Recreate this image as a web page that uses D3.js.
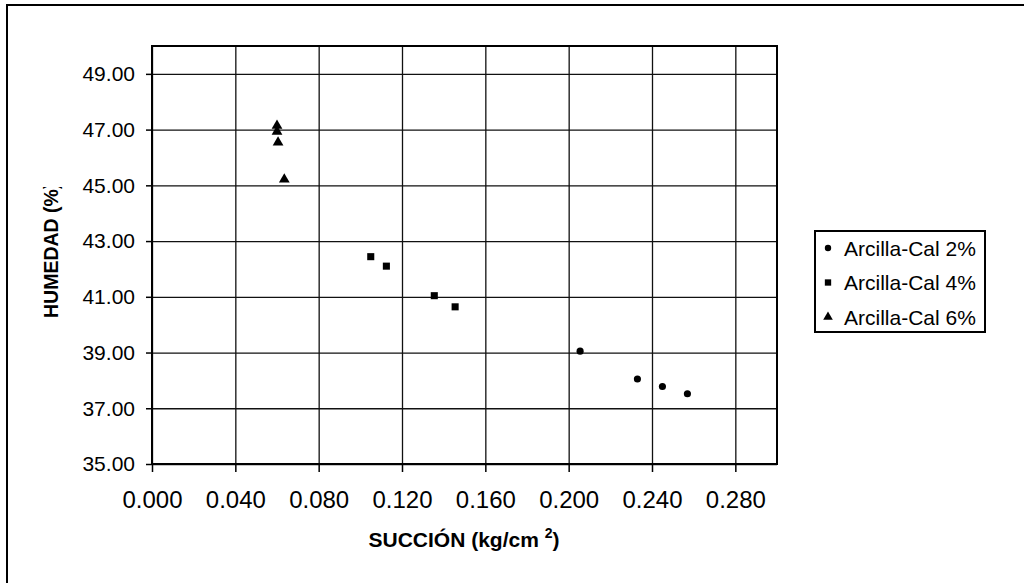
<!DOCTYPE html>
<html>
<head>
<meta charset="utf-8">
<script src="https://cdn.jsdelivr.net/npm/d3@7"></script>
<style>
  body { margin: 0; background: #fff; }
  text { font-family: "Liberation Sans", Arial, sans-serif; fill: #000; }
</style>
</head>
<body>
<div id="chart"></div>
<script>
// series
var seriesNames = ["Arcilla-Cal 2%", "Arcilla-Cal 4%", "Arcilla-Cal 6%"];
var cal2x = [0.2055, 0.233, 0.245, 0.257];
var cal2y = [39.05, 38.05, 37.78, 37.52];
var cal4x = [0.105, 0.1125, 0.1355, 0.1455];
var cal4y = [42.44, 42.10, 41.04, 40.64];
var cal6x = [0.060, 0.060, 0.0605, 0.0635];
var cal6y = [47.14, 46.93, 46.54, 45.21];
var xTicks = [0, 0.04, 0.08, 0.12, 0.16, 0.2, 0.24, 0.28];
var yTicks = [35, 37, 39, 41, 43, 45, 47, 49];

drawChart();

function drawChart(){
  var W = 1024, H = 583;
  var margin = {top: 46, right: 247, bottom: 119, left: 152},
    w = W - margin.left - margin.right,
    h = H - margin.top - margin.bottom;

  var svg = d3.select("#chart")
    .append("svg")
    .attr("width", W)
    .attr("height", H);

  // outer chart frame (goes off the right and bottom edge)
  svg.append("rect")
    .attr("x", 7).attr("y", 5)
    .attr("width", W + 20).attr("height", H + 20)
    .attr("fill", "none")
    .attr("stroke", "#000")
    .attr("stroke-width", 2);

  var x = d3.scaleLinear().domain([0, 0.3]).range([0, w]);
  var y = d3.scaleLinear().domain([35, 50]).range([h, 0]);

  var g = svg.append("g")
    .attr("transform", "translate(" + margin.left + "," + margin.top + ")");

  // gridlines
  g.append("g")
    .call(d3.axisLeft(y).tickValues(yTicks).tickSize(-w).tickFormat(""))
    .call(function(s){ s.select(".domain").remove(); })
    .selectAll("line").attr("stroke", "#111").attr("stroke-width", 1.3);
  g.append("g")
    .attr("transform", "translate(0," + h + ")")
    .call(d3.axisBottom(x).tickValues(xTicks).tickSize(-h).tickFormat(""))
    .call(function(s){ s.select(".domain").remove(); })
    .selectAll("line").attr("stroke", "#111").attr("stroke-width", 1.3);

  // plot border
  g.append("rect")
    .attr("width", w).attr("height", h)
    .attr("fill", "none")
    .attr("stroke", "#000")
    .attr("stroke-width", 2);

  // axes
  var yAxis = g.append("g")
    .call(d3.axisLeft(y).tickValues(yTicks).tickSize(6).tickPadding(11)
      .tickFormat(d3.format(".2f")));
  yAxis.select(".domain").remove();
  yAxis.selectAll("line").attr("stroke", "#000").attr("stroke-width", 1.5);
  yAxis.selectAll("text")
    .attr("font-size", "21px")
    .attr("font-family", "Liberation Sans, Arial, sans-serif");

  var xAxis = g.append("g")
    .attr("transform", "translate(0," + h + ")")
    .call(d3.axisBottom(x).tickValues(xTicks).tickSize(8).tickPadding(19)
      .tickFormat(d3.format(".3f")));
  xAxis.select(".domain").remove();
  xAxis.selectAll("line").attr("stroke", "#000").attr("stroke-width", 1.5);
  xAxis.selectAll("text")
    .attr("font-size", "24px")
    .attr("font-family", "Liberation Sans, Arial, sans-serif");

  // points
  var series = [
    {xs: cal2x, ys: cal2y, sym: d3.symbolCircle, size: 40},
    {xs: cal4x, ys: cal4y, sym: d3.symbolSquare, size: 50},
    {xs: cal6x, ys: cal6y, sym: d3.symbolTriangle, size: 50}
  ];
  series.forEach(function(s){
    g.append("g").selectAll("path")
      .data(s.xs)
      .enter()
      .append("path")
      .attr("d", d3.symbol().type(s.sym).size(s.size))
      .attr("transform", function(d, i){
        return "translate(" + x(d) + "," + y(s.ys[i]) + ")";
      })
      .attr("fill", "#000");
  });

  // axis titles
  var xt = svg.append("text")
    .attr("x", 464)
    .attr("y", 547)
    .attr("text-anchor", "middle")
    .attr("font-size", "21px")
    .attr("font-weight", "bold");
  xt.append("tspan").text("SUCCIÓN (kg/cm ");
  xt.append("tspan").attr("font-size", "14px").attr("dy", -9).text("2");
  xt.append("tspan").attr("dy", 9).text(")");

  // the y title is cut at the top in the original
  svg.append("clipPath").attr("id", "yclip")
    .append("rect").attr("x", 20).attr("y", 187).attr("width", 60).attr("height", 200);
  svg.append("g")
    .attr("clip-path", "url(#yclip)")
    .append("text")
    .attr("transform", "translate(58,318) rotate(-90)")
    .attr("text-anchor", "start")
    .attr("font-size", "19.5px")
    .attr("font-weight", "bold")
    .text("HUMEDAD (%)");

  // legend
  var leg = svg.append("g").attr("transform", "translate(815,231)");
  leg.append("rect")
    .attr("width", 170).attr("height", 101)
    .attr("fill", "#fff")
    .attr("stroke", "#000")
    .attr("stroke-width", 2);
  var items = leg.selectAll("g.item")
    .data(seriesNames)
    .enter()
    .append("g")
    .attr("transform", function(d, i){ return "translate(0," + (17 + i * 34.5) + ")"; });
  items.append("path")
    .attr("d", function(d, i){
      return d3.symbol().type(series[i].sym).size(series[i].size * 0.8)();
    })
    .attr("transform", "translate(13,0)")
    .attr("fill", "#000");
  items.append("text")
    .attr("x", 29)
    .attr("dy", "0.36em")
    .attr("font-size", "21px")
    .text(function(d){ return d; });
}
</script>
</body>
</html>
